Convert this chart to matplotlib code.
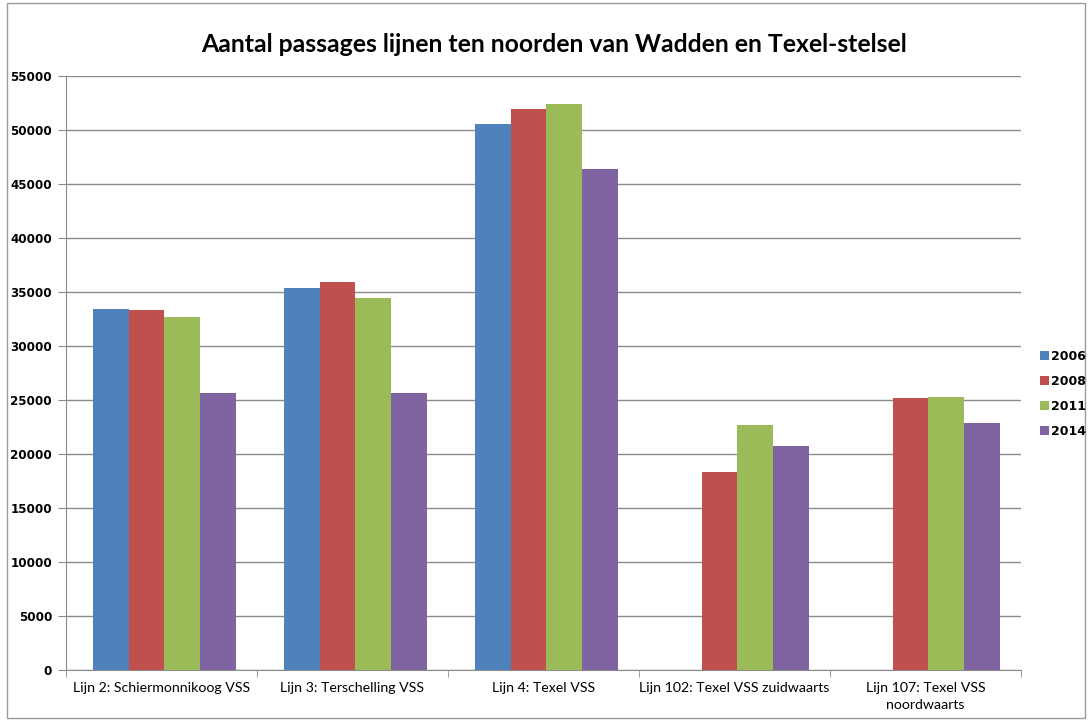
import matplotlib.pyplot as plt
import numpy as np
from matplotlib.patches import Rectangle

plt.rcParams.update({'font.family': ['Lato', 'DejaVu Sans']})

categories = ["Lijn 2: Schiermonnikoog VSS", "Lijn 3: Terschelling VSS",
              "Lijn 4: Texel VSS", "Lijn 102: Texel VSS zuidwaarts",
              "Lijn 107: Texel VSS\nnoordwaarts"]
years = ["2006", "2008", "2011", "2014"]
v2006 = [33400, 35400, 50600, np.nan, np.nan]
v2008 = [33300, 35950, 51900, 18350, 25150]
v2011 = [32700, 34450, 52400, 22650, 25300]
v2014 = [25650, 25650, 46350, 20750, 22850]
series = [v2006, v2008, v2011, v2014]
colors = ['#4F81BD', '#C0504D', '#9BBB59', '#8064A2']
y_ticks = np.arange(0, 55001, 5000)

fig = plt.figure(figsize=(10.89, 7.2), dpi=100)
ax = fig.add_axes([66/1089, 1-670/720, (1021-66)/1089, (670-76)/720])

x = np.arange(len(categories))
w = 0.1875
for i, vals in enumerate(series):
    ax.bar(x + (i - 1.5) * w + 0.015, vals, width=w, color=colors[i],
           label=years[i], zorder=3)

grid_c = '#8c8c8c'
ax.set_ylim(0, 55000)
ax.set_yticks(y_ticks)
ax.set_yticklabels([str(t) for t in y_ticks], family='DejaVu Sans',
                   fontweight='bold', fontsize=8.6)
ax.set_xlim(-0.5, len(categories) - 0.5)
ax.set_xticks(x)
ax.set_xticklabels(categories, fontsize=10.2, linespacing=1.45)
ax.set_xticks(np.arange(-0.5, len(categories)), minor=True)
ax.tick_params(axis='x', which='major', length=0, pad=9)
ax.tick_params(axis='x', which='minor', length=5, color=grid_c)
ax.tick_params(axis='y', length=6, color=grid_c, pad=4)
ax.yaxis.grid(True, color=grid_c, linewidth=1, zorder=0)
for s in ['top', 'right']:
    ax.spines[s].set_visible(False)
for s in ['left', 'bottom']:
    ax.spines[s].set_color(grid_c)

fig.text(554/1089, 1-44/720, "Aantal passages lijnen ten noorden van Wadden en Texel-stelsel",
         ha='center', va='center', fontsize=17.8, fontweight='bold')

handles, labels = ax.get_legend_handles_labels()
fig.legend(handles, labels, loc='center left', bbox_to_anchor=(1040/1089, 1-394/720),
           frameon=False, borderpad=0, borderaxespad=0,
           handlelength=0.7, handleheight=0.7, handletextpad=0.2,
           labelspacing=0.95, prop={'family': 'DejaVu Sans', 'weight': 'bold', 'size': 9})

fig.patches.append(Rectangle((7/1089, 2/720), 1078/1089, 715/720, transform=fig.transFigure,
                             fill=False, edgecolor='#9a9a9a', linewidth=1))

fig.savefig('out.png', dpi=100)
